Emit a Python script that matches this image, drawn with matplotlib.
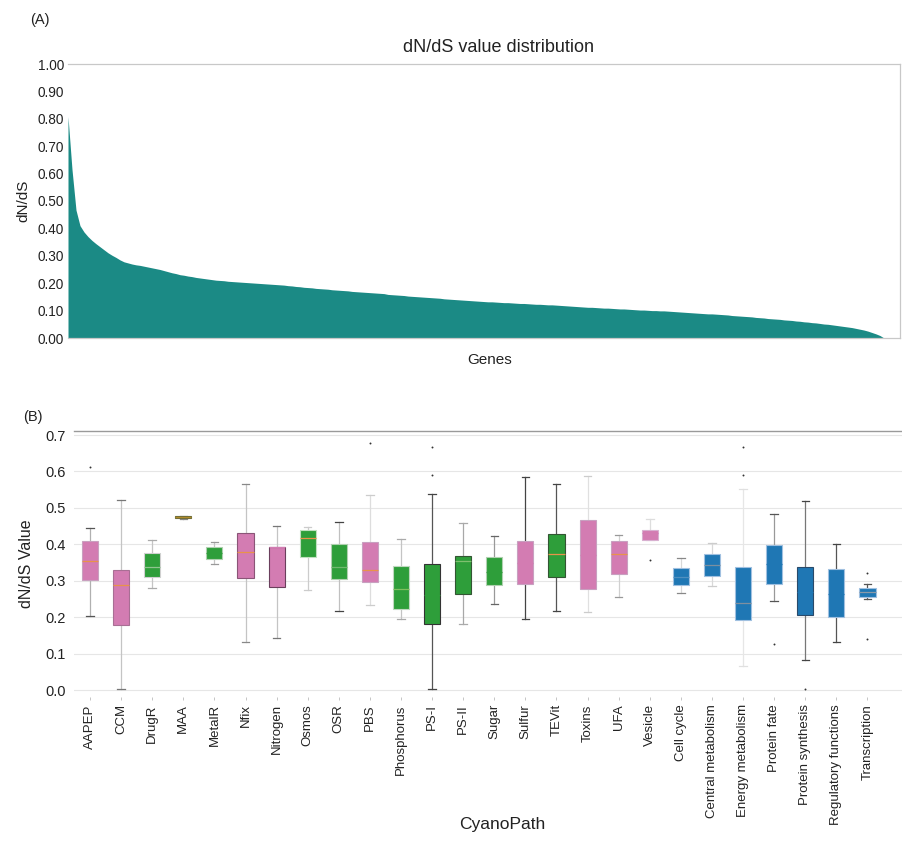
import matplotlib
matplotlib.use("Agg")
import matplotlib.pyplot as plt
import numpy as np

plt.rcParams['font.family'] = ['Liberation Sans', 'DejaVu Sans']

# ---- Panel A: per-gene dN/dS values, sorted in descending order ----
gene_dnds = [
    0.808, 0.615, 0.467, 0.410, 0.387, 0.370, 0.356, 0.344, 0.333, 0.322,
    0.311, 0.302, 0.294, 0.285, 0.278, 0.274, 0.270, 0.267, 0.265, 0.262,
    0.259, 0.256, 0.253, 0.250, 0.246, 0.242, 0.238, 0.235, 0.231, 0.229,
    0.226, 0.224, 0.221, 0.219, 0.217, 0.215, 0.213, 0.211, 0.210, 0.209,
    0.207, 0.206, 0.205, 0.204, 0.203, 0.202, 0.201, 0.200, 0.199, 0.198,
    0.197, 0.196, 0.195, 0.194, 0.193, 0.191, 0.190, 0.188, 0.187, 0.185,
    0.184, 0.183, 0.181, 0.180, 0.179, 0.178, 0.176, 0.175, 0.174, 0.173,
    0.172, 0.170, 0.169, 0.168, 0.167, 0.166, 0.165, 0.164, 0.163, 0.162,
    0.159, 0.158, 0.157, 0.156, 0.155, 0.153, 0.152, 0.151, 0.150, 0.149,
    0.148, 0.147, 0.146, 0.145, 0.143, 0.142, 0.141, 0.140, 0.139, 0.138,
    0.137, 0.136, 0.135, 0.134, 0.133, 0.132, 0.132, 0.131, 0.130, 0.129,
    0.129, 0.128, 0.127, 0.126, 0.126, 0.125, 0.124, 0.123, 0.123, 0.122,
    0.121, 0.121, 0.120, 0.119, 0.118, 0.117, 0.116, 0.115, 0.114, 0.113,
    0.112, 0.112, 0.111, 0.110, 0.109, 0.109, 0.108, 0.107, 0.106, 0.106,
    0.105, 0.104, 0.103, 0.102, 0.102, 0.101, 0.100, 0.100, 0.099, 0.099,
    0.098, 0.097, 0.096, 0.095, 0.094, 0.093, 0.092, 0.091, 0.090, 0.089,
    0.088, 0.088, 0.087, 0.086, 0.085, 0.084, 0.082, 0.081, 0.080, 0.079,
    0.078, 0.077, 0.075, 0.074, 0.073, 0.071, 0.070, 0.069, 0.068, 0.066,
    0.065, 0.064, 0.062, 0.061, 0.059, 0.058, 0.056, 0.055, 0.053, 0.051,
    0.050, 0.048, 0.046, 0.044, 0.042, 0.040, 0.038, 0.035, 0.032, 0.029,
    0.025, 0.020, 0.015, 0.009, 0.000,
]

# ---- Panel B: dN/dS summary per CyanoPath category ----
pathways = ["AAPEP", "CCM", "DrugR", "MAA", "MetalR", "Nfix", "Nitrogen",
            "Osmos", "OSR", "PBS", "Phosphorus", "PS-I", "PS-II", "Sugar",
            "Sulfur", "TEVit", "Toxins", "UFA", "Vesicle", "Cell cycle",
            "Central metabolism", "Energy metabolism", "Protein fate",
            "Protein synthesis", "Regulatory functions", "Transcription"]
groups = ["cyano", "cyano", "res", "res", "res", "cyano", "cyano",
          "res", "res", "cyano", "res", "res", "res", "res",
          "cyano", "res", "cyano", "cyano", "cyano", "core",
          "core", "core", "core", "core", "core", "core"]
whisk_low = [0.203, 0.002, 0.280, 0.469, 0.346, 0.132, 0.144, 0.275, 0.216,
             0.233, 0.195, 0.002, 0.181, 0.237, 0.194, 0.216, 0.213, 0.255,
             0.412, 0.266, 0.286, 0.066, 0.245, 0.082, 0.131, 0.250]
q1 = [0.302, 0.178, 0.310, 0.471, 0.359, 0.307, 0.284, 0.366, 0.304,
      0.297, 0.222, 0.182, 0.264, 0.287, 0.292, 0.311, 0.277, 0.319,
      0.412, 0.288, 0.313, 0.191, 0.292, 0.205, 0.200, 0.255]
median = [0.354, 0.287, 0.339, 0.475, 0.376, 0.378, 0.393, 0.417, 0.339,
          0.330, 0.277, 0.260, 0.355, 0.325, 0.350, 0.373, 0.370, 0.373,
          0.430, 0.311, 0.343, 0.238, 0.345, 0.270, 0.265, 0.270]
q3 = [0.410, 0.330, 0.377, 0.478, 0.392, 0.430, 0.394, 0.440, 0.401,
      0.406, 0.341, 0.345, 0.367, 0.365, 0.408, 0.428, 0.466, 0.408,
      0.440, 0.336, 0.373, 0.339, 0.398, 0.339, 0.333, 0.281]
whisk_high = [0.444, 0.522, 0.412, 0.479, 0.406, 0.566, 0.450, 0.447, 0.462,
              0.535, 0.415, 0.539, 0.458, 0.422, 0.584, 0.566, 0.588, 0.425,
              0.469, 0.362, 0.403, 0.553, 0.483, 0.518, 0.402, 0.290]
outliers = [[0.613], [], [], [], [], [], [], [], [], [0.678], [], [0.668, 0.589],
            [], [], [], [], [], [], [0.358], [], [], [0.668, 0.589], [0.125],
            [0.002], [], [0.322, 0.139]]

fill_colors = {"cyano": "#d37cb2", "res": "#2e9e3a", "core": "#1f77b4"}
median_colors = ["#e8934a", "#e8934a", "#8fc48f", "#b08a2a", "#2e9e3a",
                 "#e8934a", "#d37cb2", "#e8934a", "#6fb86f", "#e8934a",
                 "#7fbf5f", "#2e9e3a", "#7fbf6f", "#2e9e3a", "#d37cb2",
                 "#e8934a", "#d37cb2", "#e8934a", "#d37cb2", "#4f8fbf",
                 "#7a8fa0", "#7f8f9f", "#1f77b4", "#1f77b4", "#1f77b4",
                 "#8a9aa8"]
whisker_colors = ["#b0b0b0", "#c4c4c4", "#c4c4c4", "#888888", "#c4c4c4",
                  "#c4c4c4", "#c4c4c4", "#cccccc", "#c0c0c0", "#dddddd",
                  "#c4c4c4", "#555555", "#a8a8a8", "#999999", "#444444",
                  "#555555", "#e0e0e0", "#d0d0d0", "#dddddd", "#d8d8d8",
                  "#d8d8d8", "#e6e6e6", "#999999", "#777777", "#555555",
                  "#555555"]
cap_colors = ["#555555", "#777777", "#aaaaaa", "#888888", "#999999",
              "#888888", "#777777", "#cccccc", "#444444", "#cccccc",
              "#aaaaaa", "#444444", "#aaaaaa", "#666666", "#444444",
              "#444444", "#cccccc", "#999999", "#dddddd", "#888888",
              "#cccccc", "#e0e0e0", "#555555", "#444444", "#444444",
              "#555555"]
edge_colors = ["#c9a0bf", "#a86f94", "#d0d0d0", "#6a6a3a", "#b0d0b0",
               "#8a5577", "#6a3f5c", "#c0e0c0", "#b0d0b0", "#c8a0c0",
               "#c0d8c0", "#333333", "#335533", "#b0d0b0", "#c8a0c0",
               "#335533", "#c8a0c0", "#c8a0c0", "#d8b0d0", "#a0c0e0",
               "#a0c0e0", "#a0c0e0", "#a0c0e0", "#2a4a6a", "#a0c0e0",
               "#a0c0e0"]

W, H = 902, 842
fig = plt.figure(figsize=(W / 100, H / 100), dpi=100)

def frac_box(x0, y0, x1, y1):
    return [x0 / W, 1 - y1 / H, (x1 - x0) / W, (y1 - y0) / H]

text_col = "#222222"

# ---------------- Panel A ----------------
axA = fig.add_axes(frac_box(68, 64, 900, 338))
idx = np.arange(len(gene_dnds))
axA.fill_between(idx, gene_dnds, 0, color="#1b8a85", linewidth=0)
axA.set_xlim(0, 208)
axA.set_ylim(0, 1.0)
axA.set_yticks(np.arange(0, 1.01, 0.1))
axA.set_yticklabels([f"{v:.2f}" for v in np.arange(0, 1.01, 0.1)])
axA.set_xticks([])
axA.tick_params(axis="y", length=0, pad=3, labelsize=9.8, labelcolor=text_col)
for side in ("top", "bottom", "right"):
    axA.spines[side].set_color("#c8c8c8")
    axA.spines[side].set_linewidth(0.9)
axA.spines["left"].set_visible(False)
axA.set_title("dN/dS value distribution", fontsize=13, color=text_col,
              x=0.517, pad=9)
axA.set_xlabel("Genes", fontsize=11, color=text_col)
axA.xaxis.set_label_coords(0.507, -0.055)
axA.set_ylabel("dN/dS", fontsize=11, color=text_col, labelpad=5)
fig.text(30 / W, 1 - 20 / H, "(A)", fontsize=10.5, color=text_col,
         ha="left", va="center")

# ---------------- Panel B ----------------
axB = fig.add_axes(frac_box(74, 430.7, 902, 697.3))
stats = []
for i, name in enumerate(pathways):
    stats.append(dict(label=name, whislo=whisk_low[i], q1=q1[i], med=median[i],
                      q3=q3[i], whishi=whisk_high[i], fliers=outliers[i]))
pos = np.arange(len(pathways))
bp = axB.bxp(stats, positions=pos, widths=0.52, capwidths=0.24,
             patch_artist=True, showfliers=True,
             flierprops=dict(marker="o", markersize=1.4, markerfacecolor="#333333",
                             markeredgecolor="none"))
for i, box in enumerate(bp["boxes"]):
    box.set_facecolor(fill_colors[groups[i]])
    box.set_edgecolor(edge_colors[i])
    box.set_linewidth(0.8)
    box.set_zorder(3)
for i, med in enumerate(bp["medians"]):
    med.set_color(median_colors[i])
    med.set_linewidth(0.9)
    med.set_zorder(4)
for i in range(len(pathways)):
    for w in bp["whiskers"][2 * i:2 * i + 2]:
        w.set_color(whisker_colors[i])
        w.set_linewidth(0.9)
    for c in bp["caps"][2 * i:2 * i + 2]:
        c.set_color(cap_colors[i])
        c.set_linewidth(0.9)

axB.set_xlim(-0.515, 26.11)
axB.set_ylim(-0.02, 0.712)
yt = np.round(np.arange(0, 0.71, 0.1), 1)
axB.set_yticks(yt)
axB.set_yticklabels([f"{v:.1f}" for v in yt])
axB.yaxis.grid(True, color="#e6e6e6", linewidth=0.8)
axB.set_axisbelow(True)
axB.set_xticks(pos)
axB.set_xticklabels(pathways, rotation=90, fontsize=9.5, color=text_col)
axB.tick_params(axis="x", length=2, width=0.6, color="#bbbbbb", pad=3)
axB.tick_params(axis="y", length=0, pad=6, labelsize=10.5, labelcolor=text_col)
for side in ("left", "bottom", "right"):
    axB.spines[side].set_visible(False)
axB.spines["top"].set_color("#9a9a9a")
axB.spines["top"].set_linewidth(1.0)
axB.set_ylabel("dN/dS Value", fontsize=11.5, color=text_col, labelpad=8)
axB.set_xlabel("CyanoPath", fontsize=12.5, color=text_col)
axB.xaxis.set_label_coords(0.517, -0.448)
fig.text(23 / W, 1 - 417 / H, "(B)", fontsize=10.5, color=text_col,
         ha="left", va="center")

fig.savefig("out.png", dpi=100, facecolor="white")
